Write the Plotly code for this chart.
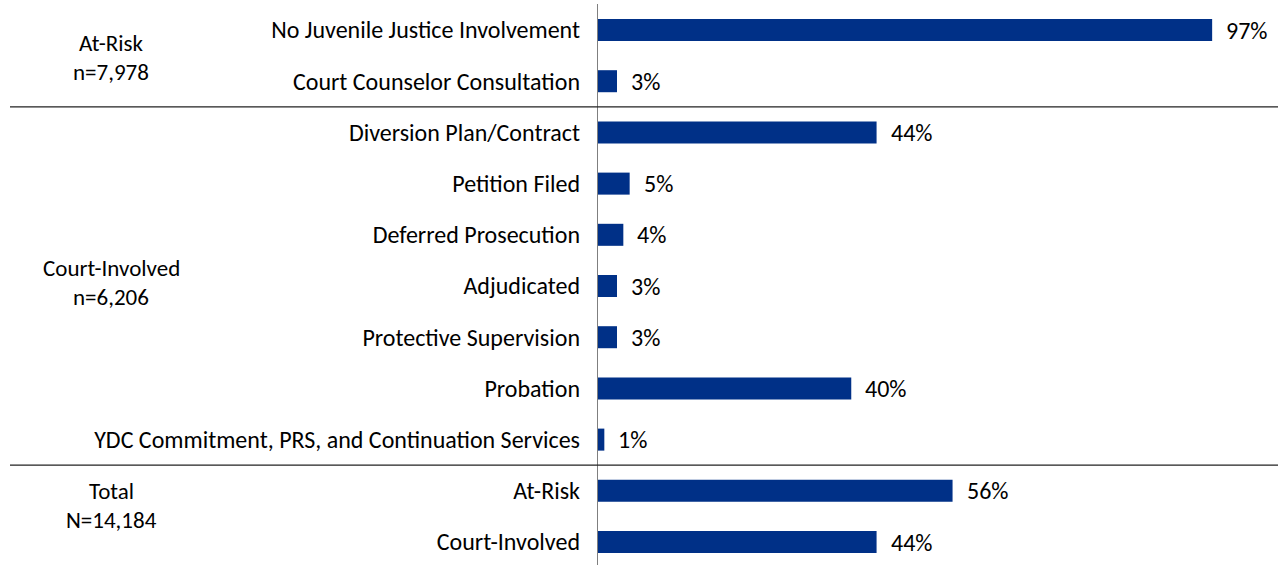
import plotly.graph_objects as go

categories = [
    "No Juvenile Justice Involvement",
    "Court Counselor Consultation",
    "Diversion Plan/Contract",
    "Petition Filed",
    "Deferred Prosecution",
    "Adjudicated",
    "Protective Supervision",
    "Probation",
    "YDC Commitment, PRS, and Continuation Services",
    "At-Risk",
    "Court-Involved",
]
values = [97, 3, 44, 5, 4, 3, 3, 40, 1, 56, 44]

group_titles = ["At-Risk", "Court-Involved", "Total"]
group_counts = ["n=7,978", "n=6,206", "N=14,184"]

# layout positions (row units) for the group label lines
title_rows = [0.254, 4.648, 9.004]
count_rows = [0.820, 5.215, 9.570]
separators = [1.5, 8.5]

FONT = "Carlito, Lato, sans-serif"
FS = 24
GFS = 23
BAR = "#003087"
PLOT_W = 680.0
GROUP_X = (111 - 598) / PLOT_W

pos = list(range(len(categories)))

fig = go.Figure()
fig.add_trace(go.Bar(
    x=values, y=pos, orientation="h",
    marker=dict(color=BAR, line=dict(width=0)),
    width=0.43, hoverinfo="skip",
))

for v, p in zip(values, pos):
    fig.add_annotation(x=v, y=p, xref="x", yref="y", text=f"{v}%",
                       showarrow=False, xanchor="left", xshift=12,
                       font=dict(family=FONT, size=FS, color="#000"))

for t, ty, n, ny in zip(group_titles, title_rows, group_counts, count_rows):
    for txt, yy in ((t, ty), (n, ny)):
        fig.add_annotation(x=GROUP_X, y=yy, xref="paper", yref="y", text=txt,
                           showarrow=False, xanchor="center", yanchor="middle",
                           font=dict(family=FONT, size=GFS, color="#000"))

for s in separators:
    fig.add_shape(type="line", xref="paper", yref="y",
                  x0=(10 - 598) / PLOT_W, x1=1.0, y0=s, y1=s,
                  line=dict(color="#222", width=1.3))

fig.update_layout(
    width=1278, height=565,
    margin=dict(l=598, r=0, t=4, b=0, autoexpand=False),
    plot_bgcolor="white", paper_bgcolor="white",
    showlegend=False,
    font=dict(family=FONT, size=FS, color="#000"),
    xaxis=dict(range=[0, 107.4], visible=False, fixedrange=True),
    yaxis=dict(range=[10.449, -0.508], tickvals=pos, ticktext=categories,
               showgrid=False, zeroline=False, showline=True, linecolor="#7f7f7f",
               linewidth=1.2, ticks="", ticklabelstandoff=12, fixedrange=True,
               tickfont=dict(family=FONT, size=FS, color="#000")),
)

fig.write_html("out.html", config={"displayModeBar": False, "staticPlot": True},
               post_script="document.body.style.margin='0';document.body.style.overflow='hidden';")
